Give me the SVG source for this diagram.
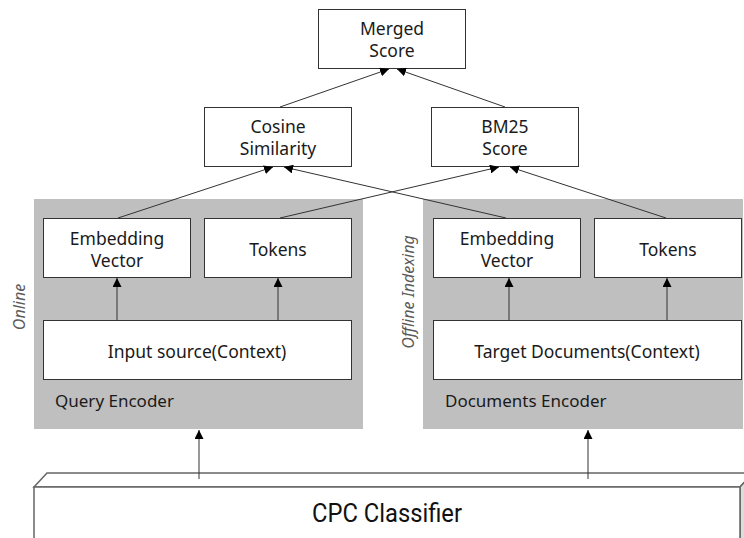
<svg xmlns="http://www.w3.org/2000/svg" width="744" height="538" viewBox="0 0 744 538">
  <style>
    .box { fill: #ffffff; stroke: #333333; stroke-width: 1; }
    .panel { fill: #bfbfbf; stroke: none; }
    .lbl { font-family: "Noto Sans", "Open Sans", sans-serif; font-size: 17.5px; fill: #1a1a1a; text-anchor: middle; }
    .plbl { font-family: "Noto Sans", "Open Sans", sans-serif; font-size: 17px; fill: #1a1a1a; }
    .side { font-family: "Noto Sans", "Open Sans", sans-serif; font-size: 16px; font-style: italic; fill: #5a5a5a; text-anchor: middle; }
    .conn { stroke: #333333; stroke-width: 1; fill: none; marker-end: url(#arrow); }
    .cls { fill: #ffffff; stroke: #666666; stroke-width: 1.5; }
  </style>
  <defs>
    <marker id="arrow" viewBox="0 0 10 10" refX="10" refY="5" markerWidth="9" markerHeight="9" markerUnits="userSpaceOnUse" orient="auto">
      <path d="M0,0 L10,5 L0,10 Z" fill="#000000"/>
    </marker>
  </defs>

  <!-- encoder panels -->
  <g id="query-encoder">
    <rect class="panel" x="34" y="199" width="329" height="230"/>
    <text class="plbl" x="55" y="407">Query Encoder</text>
    <text class="side" transform="translate(25,307) rotate(-90)">Online</text>
  </g>
  <g id="documents-encoder">
    <rect class="panel" x="423" y="199" width="320" height="230"/>
    <text class="plbl" x="445" y="407">Documents Encoder</text>
    <text class="side" transform="translate(414,292) rotate(-90)">Offline Indexing</text>
  </g>

  <!-- score nodes -->
  <g id="merged-score">
    <rect class="box" x="318.5" y="9.5" width="147" height="59"/>
    <text class="lbl" x="392" y="35">Merged</text>
    <text class="lbl" x="392" y="57">Score</text>
  </g>
  <g id="cosine-similarity">
    <rect class="box" x="204.5" y="107.5" width="147" height="59"/>
    <text class="lbl" x="278" y="133">Cosine</text>
    <text class="lbl" x="278" y="155">Similarity</text>
  </g>
  <g id="bm25-score">
    <rect class="box" x="431.5" y="107.5" width="147" height="59"/>
    <text class="lbl" x="505" y="133">BM25</text>
    <text class="lbl" x="505" y="155">Score</text>
  </g>

  <!-- query side nodes -->
  <g id="query-embedding">
    <rect class="box" x="43.5" y="218.5" width="147" height="59"/>
    <text class="lbl" x="117" y="245">Embedding</text>
    <text class="lbl" x="117" y="267">Vector</text>
  </g>
  <g id="query-tokens">
    <rect class="box" x="204.5" y="218.5" width="147" height="59"/>
    <text class="lbl" x="278" y="256">Tokens</text>
  </g>
  <g id="input-source">
    <rect class="box" x="43.5" y="320.5" width="308" height="59"/>
    <text class="lbl" x="197" y="358">Input source(Context)</text>
  </g>

  <!-- document side nodes -->
  <g id="doc-embedding">
    <rect class="box" x="433.5" y="218.5" width="147" height="59"/>
    <text class="lbl" x="507" y="245">Embedding</text>
    <text class="lbl" x="507" y="267">Vector</text>
  </g>
  <g id="doc-tokens">
    <rect class="box" x="594.5" y="218.5" width="147" height="59"/>
    <text class="lbl" x="668" y="256">Tokens</text>
  </g>
  <g id="target-documents">
    <rect class="box" x="433.5" y="320.5" width="308" height="59"/>
    <text class="lbl" x="587" y="358">Target Documents(Context)</text>
  </g>

  <!-- classifier slab -->
  <g id="cpc-classifier">
    <path d="M47,473 L753,473 L740,487 L34,487 Z" fill="#ffffff" stroke="#666666" stroke-width="1.5"/>
    <path d="M740,487 L753,473 L753,540 L740,540 Z" fill="#dddddd" stroke="#666666" stroke-width="1.5"/>
    <path d="M34,487 L740,487 L740,540 L34,540 Z" class="cls"/>
    <text x="387" y="522" font-family="Roboto, 'Liberation Sans', sans-serif" font-size="26" fill="#111111" text-anchor="middle" textLength="150" lengthAdjust="spacingAndGlyphs">CPC Classifier</text>
  </g>

  <!-- connectors -->
  <g id="connectors">
    <line class="conn" x1="280" y1="107" x2="389" y2="69"/>
    <line class="conn" x1="505" y1="107" x2="397" y2="69"/>
    <line class="conn" x1="118" y1="218" x2="273" y2="167"/>
    <line class="conn" x1="506" y1="218" x2="284" y2="167"/>
    <line class="conn" x1="280" y1="218" x2="499" y2="167"/>
    <line class="conn" x1="666" y1="218" x2="510" y2="167"/>
    <line class="conn" x1="117" y1="320" x2="117" y2="278"/>
    <line class="conn" x1="278" y1="320" x2="278" y2="278"/>
    <line class="conn" x1="509" y1="320" x2="509" y2="278"/>
    <line class="conn" x1="667" y1="320" x2="667" y2="278"/>
    <line class="conn" x1="199" y1="479" x2="199" y2="430"/>
    <line class="conn" x1="588" y1="479" x2="588" y2="430"/>
  </g>
</svg>
